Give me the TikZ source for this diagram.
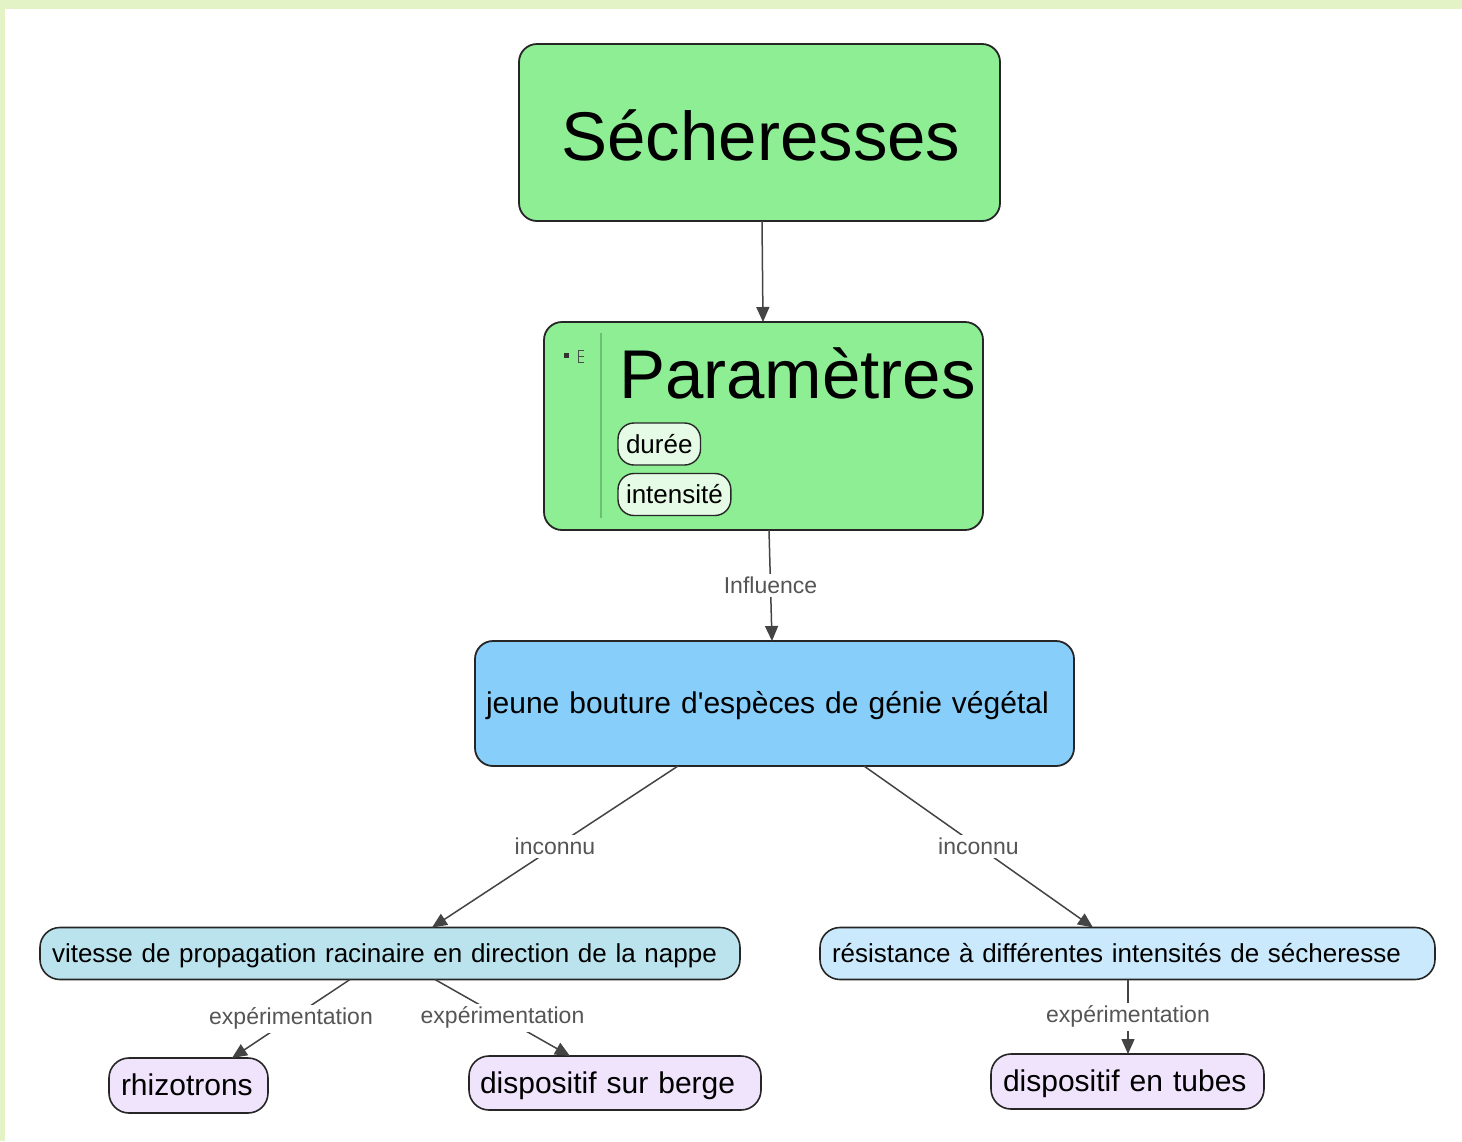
\documentclass[tikz,border=0pt]{standalone}
\usepackage{fontspec}
\setmainfont{Liberation Sans}
\usepackage{xcolor}
\usetikzlibrary{shapes.geometric, arrows.meta, positioning}

\definecolor{frameGreen}{HTML}{E3F3C6}
\definecolor{conceptGreen}{HTML}{8EEE94}
\definecolor{paleGreen}{HTML}{E6FBE6}
\definecolor{ruleGreen}{HTML}{6FBF73}
\definecolor{skyBlue}{HTML}{87CEFA}
\definecolor{powderBlue}{HTML}{BBE3EE}
\definecolor{iceBlue}{HTML}{CBE9FC}
\definecolor{lavender}{HTML}{F0E3FC}
\definecolor{edgeGray}{HTML}{444444}
\definecolor{labelGray}{HTML}{555555}

% one line of text, centred on its x-height
\newcommand{\pillline}[1]{\smash{#1}\rule[-0.05em]{0pt}{0.78em}}

\begin{document}
\begin{tikzpicture}[x=1pt, y=-1pt,
			every node/.style={inner sep=0pt, outer sep=0pt},
			concept/.style={draw=black!85, line width=1.8pt, rounded corners=18pt},
			pill/.style={draw=black!85, line width=1.6pt, rounded corners=20pt, minimum height=52pt, inner xsep=12pt, align=left},
			tag/.style={draw=black!85, line width=1.4pt, rounded corners=16pt, fill=paleGreen, minimum height=42pt, inner xsep=8pt, font=\fontsize{26}{30}\selectfont},
			link/.style={text=labelGray, fill=white, inner sep=3pt, font=\fontsize{23}{26}\selectfont},
			arrow/.style={draw=edgeGray, line width=1.5pt, -{Triangle[length=15pt,width=13pt]}}
			]
			
			% Frame
			\fill[frameGreen] (0,0) rectangle (1462,1141);
			\fill[white] (5,9) rectangle (1462,1141);
			\useasboundingbox (0,0) rectangle (1462,1141);
			
			% Nodes
			\node (sech) [concept, fill=conceptGreen, minimum width=481pt, minimum height=177pt] at (759.5,132.5) {};
			\node (sech_txt) [anchor=base, font=\fontsize{69}{80}\selectfont] at (761,160) {Sécheresses};
			
			\node (param) [concept, fill=conceptGreen, minimum width=439pt, minimum height=208pt] at (763.5,426) {};
			\node (param_txt) [anchor=base west, font=\fontsize{69}{80}\selectfont] at (619,398) {Paramètres};
			\node (duree) [tag, anchor=west] at (618,444) {durée};
			\node (intens) [tag, anchor=west] at (618,494.5) {intensité};
			\draw[ruleGreen, line width=1.5pt] (601,333) -- (601,518);
			\fill[black!80] (564,353) rectangle (569,358);
			\draw[black!70, line width=1pt] (578,350) -- (578,362) (578,350) -- (584,350) (578,356) -- (584,356) (578,362) -- (584,362);
			
			\node (jeune) [concept, fill=skyBlue, minimum height=125pt, inner xsep=11pt, text width=577pt, align=left, font=\fontsize{30}{34}\selectfont] at (774.5,703.5) {\pillline{jeune bouture d\textquotesingle espèces de génie végétal}};
			
			\node (vitesse) [pill, fill=powderBlue, text width=676pt, font=\fontsize{26}{30}\selectfont] at (390,953.5) {\pillline{vitesse de propagation racinaire en direction de la nappe}};
			\node (resist) [pill, fill=iceBlue, text width=591pt, font=\fontsize{26}{30}\selectfont] at (1127.5,953.5) {\pillline{résistance à différentes intensités de sécheresse}};
			
			\node (rhizo) [pill, fill=lavender, text width=135pt, minimum height=55pt, font=\fontsize{30}{34}\selectfont] at (188.5,1085.5) {\pillline{rhizotrons}};
			\node (berge) [pill, fill=lavender, inner xsep=11pt, text width=270pt, minimum height=54pt, font=\fontsize{30}{34}\selectfont] at (615,1083) {\pillline{dispositif sur berge}};
			\node (tubes) [pill, fill=lavender, text width=249pt, minimum height=55pt, font=\fontsize{30}{34}\selectfont] at (1127.5,1081.5) {\pillline{dispositif en tubes}};
			
			% Connections
			\draw [arrow] ([xshift=2.5pt]sech.south) -- ([xshift=-0.5pt]param.north);
			\draw [arrow] ([xshift=5.5pt]param.south) -- node[link] {Influence} ([xshift=-2.5pt]jeune.north);
			\draw [arrow] ([xshift=-96.5pt]jeune.south) -- node[link] {inconnu} ([xshift=42pt]vitesse.north);
			\draw [arrow] ([xshift=89.5pt]jeune.south) -- node[link] {inconnu} ([xshift=-34.5pt]resist.north);
			\draw [arrow] ([xshift=-40pt]vitesse.south) -- node[link] {expérimentation} ([xshift=43.5pt]rhizo.north);
			\draw [arrow] ([xshift=45pt]vitesse.south) -- node[link] {expérimentation} ([xshift=-45pt]berge.north);
			\draw [arrow] ([xshift=0.5pt]resist.south) -- node[link] {expérimentation} ([xshift=0.5pt]tubes.north);
			
		\end{tikzpicture}
\end{document}
